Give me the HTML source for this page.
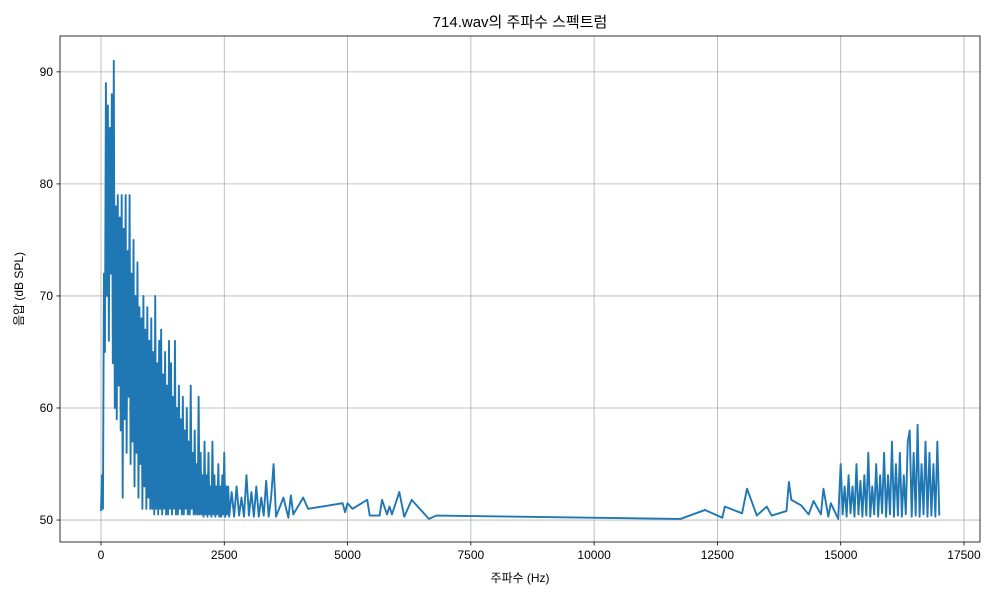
<!DOCTYPE html>
<html><head><meta charset="utf-8"><style>
body{margin:0;background:#fff;}
svg text{font-family:"Liberation Sans","Noto Sans CJK KR",sans-serif;fill:#000;}
</style></head><body>
<svg id="chart" width="1000" height="600" xmlns="http://www.w3.org/2000/svg">
<rect width="1000" height="600" fill="#fff"/>
<g id="grid"></g>
<g id="axes"></g>
<g id="series"></g>
<text x="520" y="27" font-size="15" text-anchor="middle">714.wav의 주파수 스펙트럼</text>
<text x="520" y="582" font-size="12" text-anchor="middle">주파수 (Hz)</text>
<text x="23" y="289" font-size="12" text-anchor="middle" transform="rotate(-90 23 289)">음압 (dB SPL)</text>
</svg>
<script>
const xTicks=[0,2500,5000,7500,10000,12500,15000,17500];
const yTicks=[50,60,70,80,90];
const freqs=[0,20,40,60,80,100,120,140,160,180,200,220,240,260,280,300,320,340,360,380,400,420,440,460,480,500,520,540,560,580,600,620,640,660,680,700,720,740,760,780,800,820,840,860,880,900,920,940,960,980,1000,1020,1040,1060,1080,1100,1120,1140,1160,1180,1200,1220,1240,1260,1280,1300,1320,1340,1360,1380,1400,1420,1440,1460,1480,1500,1520,1540,1560,1580,1600,1620,1640,1660,1680,1700,1720,1740,1760,1780,1800,1820,1840,1860,1880,1900,1920,1940,1960,1980,2000,2020,2040,2060,2080,2100,2120,2140,2160,2180,2200,2220,2240,2260,2280,2300,2320,2340,2360,2380,2400,2420,2440,2460,2480,2500,2520,2540,2560,2580,2600,
2650,2700,2750,2800,2850,2900,2950,3000,3050,3100,3150,3200,3250,3300,3350,3400,3450,3500,3550,3700,3800,3850,3900,4100,4200,4900,4950,5000,5100,5400,5450,5650,5700,5800,5850,5900,6050,6150,6300,6650,6800,11750,12250,12600,12650,13000,13100,13300,13500,13600,13900,13950,14000,14200,14350,14450,14600,14650,14750,14800,14950,
15000,15040,15080,15120,15160,15200,15240,15280,15320,15360,15400,15440,15480,15520,15560,15600,15640,15680,15720,15760,15800,15840,15880,15920,15960,16000,16040,16080,16120,16160,16200,16240,16280,16320,16360,16400,16440,16480,16520,16560,16600,16640,16680,16720,16760,16800,16840,16880,16920,16960,17000];
const levels=[50.8,54,51,72,65,89,70,87,66,85,72,88,64,91,60,78,59,79,62,77,58,79,52,76,59,79,56,74,61,79,55,72,57,75,53,70,56,73,52,69,55,68,51,70,53,67,51,69,52,66,51,68,51,65,50.5,70,51,64,50.5,66,51,67,50.5,63,51,65,50.5,62,50.5,66,51,64,50.5,61,51,66,50.5,60,50.5,62,51,59,50.5,61,50.5,58,51,60,50.5,57,50.5,62,51,56,50.5,58,50.5,55,50.5,61,50.5,56,50.5,54,50.3,57,50.5,54,50.3,56,50.5,53,50.3,57,50.5,54,50.3,53,50.5,55,50.3,53,50.3,54,50.5,56,50.3,53,50.5,53,50.3,
52.5,50.3,53,50.4,52,50.3,54,50.4,52.5,50.3,53,50.3,52,50.4,53.5,50.3,52,55,50.3,52,50.2,52.2,50.5,52,51,51.5,50.7,51.5,51,51.8,50.4,50.4,51.8,50.5,51.2,50.5,52.5,50.3,51.8,50.1,50.4,50.1,50.9,50.2,51.2,50.6,52.8,50.4,51.2,50.4,50.8,53.4,51.8,51.3,50.5,51.7,50.5,52.8,50.3,51.5,50.1,
55,50.5,53,50.3,54,50.6,53,50.3,55,50.5,53.5,50.3,54,50.4,56,50.3,53,50.5,55,50.3,54,50.6,56,50.3,54,50.5,57,50.3,55,50.4,56,50.3,54,50.5,57,58,50.3,56,50.4,58.5,50.3,55,50.5,57,50.3,56,50.4,55,50.3,57,50.4];
const X0=60,X1=980,Y0=542,Y1=36,xmin=-831,xmax=17825,ymin=48.04,ymax=93.2;
const sx=v=>X0+(v-xmin)/(xmax-xmin)*(X1-X0);
const sy=v=>Y0-(v-ymin)/(ymax-ymin)*(Y0-Y1);
const NS="http://www.w3.org/2000/svg";
const grid=document.getElementById('grid'),axes=document.getElementById('axes'),ser=document.getElementById('series');
function mk(t,a,p){const e=document.createElementNS(NS,t);for(const k in a)e.setAttribute(k,a[k]);p.appendChild(e);return e;}
xTicks.forEach(t=>{const x=sx(t);
 const g=mk('line',{x1:x,x2:x,y1:Y1,y2:Y0,stroke:'#b0b0b0','stroke-width':0.8},grid);
 
 
 mk('line',{x1:x,x2:x,y1:Y0,y2:Y0+3.5,stroke:'#000','stroke-width':0.8},axes);
 const l=mk('text',{x:x,y:Y0+17,'font-size':12,'text-anchor':'middle'},axes);l.textContent=t;
 
 });
yTicks.forEach(t=>{const y=sy(t);
 const g=mk('line',{x1:X0,x2:X1,y1:y,y2:y,stroke:'#b0b0b0','stroke-width':0.8},grid);
 
 
 mk('line',{x1:X0-3.5,x2:X0,y1:y,y2:y,stroke:'#000','stroke-width':0.8},axes);
 const l=mk('text',{x:X0-7,y:y+4,'font-size':12,'text-anchor':'end'},axes);l.textContent=t;
 
 });
const fr=mk('rect',{x:X0,y:Y1,width:X1-X0,height:Y0-Y1,fill:'none',stroke:'#000','stroke-width':0.8},axes);


const n=Math.min(freqs.length,levels.length);
let d='';for(let i=0;i<n;i++)d+=(i?'L':'M')+sx(freqs[i]).toFixed(2)+' '+sy(levels[i]).toFixed(2);
const p=mk('path',{d:d,fill:'none',stroke:'#1f77b4','stroke-width':1.9,'stroke-linejoin':'round'},ser);


</script>
</body></html>
